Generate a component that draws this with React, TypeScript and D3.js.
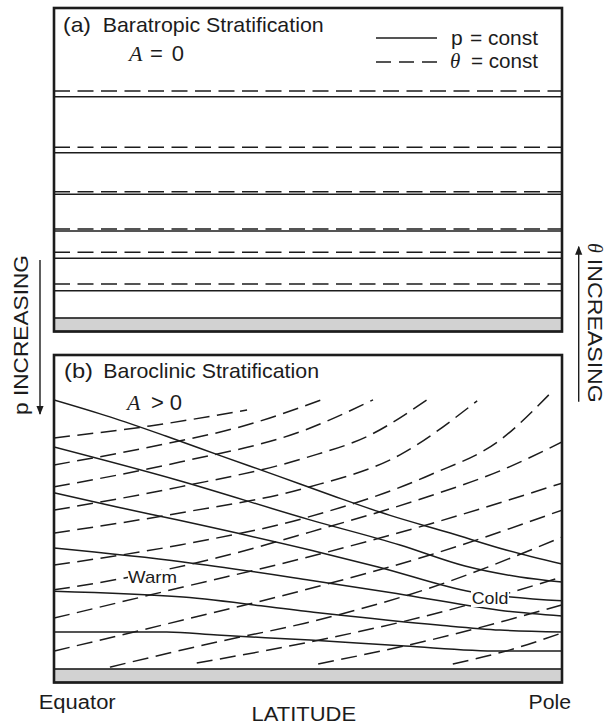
import * as d3 from "d3";

// ---- data (latitude 0 = Equator, 100 = Pole; height 0 = ground, 100 = panel top) ----

// (a) barotropic: horizontal surfaces
const thetaLevelsTop = [73.2, 55.1, 40.7, 28.7, 21.2, 11.0];
const pLevelsTop = [71.4, 53.3, 39.9, 28.1, 19.3, 8.8];

// (b) baroclinic: isobars (solid) as [latitude, height]
const p1: [number, number][] = [[0, 85.7], [11, 80.3], [22, 74.2], [33, 67.8], [44, 61.5], [55, 55.1], [66, 49.0], [78, 43.3], [89, 37.9], [100, 33.4]];
const p2: [number, number][] = [[0, 70.7], [24.2, 60.2], [50.4, 47.5], [68.1, 39.5], [80.9, 32.8], [91.7, 29.3], [100, 27.7]];
const p3: [number, number][] = [[0, 56.1], [12.4, 51.6], [24.2, 47.5], [50.4, 37.9], [63.8, 32.5], [82.3, 24.5], [100, 21.7]];
const p4: [number, number][] = [[0, 38.5], [25.4, 34.1], [50.4, 28.3], [69.1, 23.6], [88.8, 18.5], [100, 16.9]];
const p5: [number, number][] = [[0, 24.8], [25.4, 22.9], [50.4, 18.2], [75.6, 14.0], [87.8, 12.4], [100, 11.8]];
const p6: [number, number][] = [[0, 11.8], [22.2, 11.8], [32.1, 10.8], [50.4, 9.2], [69.1, 7.3], [87.8, 5.7], [100, 5.7]];

// (b) baroclinic: isentropes (dashed)
const t1: [number, number][] = [[0, 73.6], [18.9, 77.4], [38, 82.5]];
const t2: [number, number][] = [[0, 65.0], [18.9, 70.7], [38.6, 78.0], [52.6, 85.7]];
const t3: [number, number][] = [[0, 58.0], [24.8, 65.9], [49.4, 76.1], [62.8, 85.7]];
const t4: [number, number][] = [[0, 50.6], [24.8, 58.0], [49.4, 67.2], [62.2, 74.5], [73.4, 85.7]];
const t5: [number, number][] = [[0, 43.3], [24.8, 49.7], [49.4, 57.6], [68.1, 68.2], [83.3, 85.4]];
const t6: [number, number][] = [[0, 33.1], [24.8, 39.5], [49.4, 48.1], [74, 61.8], [87.8, 72.9], [97.4, 87.3]];
const t7: [number, number][] = [[0, 25.2], [13, 28.7], [32.1, 35.4], [50.4, 43.6], [74, 55.1], [87.8, 63.1], [100, 72.3]];
const t8: [number, number][] = [[0, 16.2], [25.4, 26.1], [49.4, 35.4], [74, 46.2], [100, 59.2]];
const t9: [number, number][] = [[0, 5.7], [25.4, 15.6], [49.4, 25.2], [74, 36.3], [100, 50.6]];
const t10: [number, number][] = [[11, 0.6], [32.1, 8.6], [49.4, 14.6], [74, 25.8], [100, 42.0]];
const t11: [number, number][] = [[28.1, 1.9], [49.4, 8.3], [74, 17.2], [100, 29.3]];
const t12: [number, number][] = [[52, 1.6], [74, 9.2], [100, 20.4]];
const t13: [number, number][] = [[78.5, 1.6], [89.8, 6.1], [100, 11.5]];

const isobars = [p1, p2, p3, p4, p5, p6];
const isentropes = [t1, t2, t3, t4, t5, t6, t7, t8, t9, t10, t11, t12, t13];

const W = 607;
const H = 726;
const SANS = "'Liberation Sans', Arial, Helvetica, sans-serif";
const SERIF = "'Liberation Serif', 'DejaVu Serif', serif";
const INK = "#1c1c1c";
const DASH = "16,7.5";

export default function App() {
  const x = d3.scaleLinear().domain([0, 100]).range([54, 562]);
  const yTop = d3.scaleLinear().domain([0, 100]).range([318, 8]);
  const yBot = d3.scaleLinear().domain([0, 100]).range([669, 355]);
  const band = 13.5;

  const line = d3
    .line<[number, number]>()
    .x((d) => x(d[0]))
    .y((d) => yBot(d[1]))
    .curve(d3.curveMonotoneX);

  const frame = (top: number, ground: number) => (
    <g>
      <rect x={x(0)} y={ground} width={x(100) - x(0)} height={band} fill="#d2d2d2" stroke={INK} strokeWidth={1.6} />
      <rect x={x(0)} y={top} width={x(100) - x(0)} height={ground + band - top} fill="none" stroke={INK} strokeWidth={2.6} />
    </g>
  );

  return (
    <svg width={W} height={H} style={{ position: "absolute", left: 0, top: 0, background: "#fff" }}>
      <defs>
        <marker id="ah" viewBox="0 0 10 10" refX="9" refY="5" markerWidth="9" markerHeight="9" markerUnits="userSpaceOnUse" orient="auto">
          <path d="M0,1 L10,5 L0,9 Z" fill={INK} />
        </marker>
        <clipPath id="clipTop">
          <rect x={x(0)} y={yTop(100)} width={x(100) - x(0)} height={yTop(0) - yTop(100)} />
        </clipPath>
        <clipPath id="clipBot">
          <rect x={x(0)} y={yBot(100)} width={x(100) - x(0)} height={yBot(0) - yBot(100)} />
        </clipPath>
      </defs>

      {/* (a) barotropic panel */}
      <g clipPath="url(#clipTop)">
        {thetaLevelsTop.map((v, i) => (
          <line key={"tt" + i} x1={x(0)} x2={x(100)} y1={yTop(v)} y2={yTop(v)} stroke={INK} strokeWidth={1.5} strokeDasharray={DASH} />
        ))}
        {pLevelsTop.map((v, i) => (
          <line key={"pt" + i} x1={x(0)} x2={x(100)} y1={yTop(v)} y2={yTop(v)} stroke={INK} strokeWidth={1.5} />
        ))}
      </g>
      {frame(yTop(100), yTop(0))}

      <text x={63} y={31.7} fontFamily={SANS} fontSize={21} fill={INK} textLength={28} lengthAdjust="spacingAndGlyphs">(a)</text>
      <text x={102.7} y={31.7} fontFamily={SANS} fontSize={21} fill={INK} textLength={221} lengthAdjust="spacingAndGlyphs">Baratropic Stratification</text>
      <text x={129} y={60.7} fontFamily={SERIF} fontStyle="italic" fontSize={22} fill={INK}>A</text>
      <text x={150} y={60.7} fontFamily={SANS} fontSize={22} fill={INK} textLength={34} lengthAdjust="spacing">= 0</text>

      {/* legend */}
      <line x1={376} x2={437} y1={38} y2={38} stroke={INK} strokeWidth={1.5} />
      <line x1={376} x2={437} y1={62} y2={62} stroke={INK} strokeWidth={1.5} strokeDasharray="15,8" />
      <text x={451} y={45} fontFamily={SANS} fontSize={21} fill={INK}>p</text>
      <text x={470} y={45} fontFamily={SANS} fontSize={21} fill={INK} textLength={68} lengthAdjust="spacingAndGlyphs">= const</text>
      <text x={450} y={68} fontFamily={SERIF} fontStyle="italic" fontSize={21} fill={INK}>θ</text>
      <text x={471} y={68} fontFamily={SANS} fontSize={21} fill={INK} textLength={67} lengthAdjust="spacingAndGlyphs">= const</text>

      {/* (b) baroclinic panel */}
      <g clipPath="url(#clipBot)">
        {isentropes.map((d, i) => (
          <path key={"ti" + i} d={line(d) ?? ""} fill="none" stroke={INK} strokeWidth={1.5} strokeDasharray={DASH} />
        ))}
        {isobars.map((d, i) => (
          <path key={"pi" + i} d={line(d) ?? ""} fill="none" stroke={INK} strokeWidth={1.5} />
        ))}
      </g>
      {frame(yBot(100), yBot(0))}

      <text x={64} y={378} fontFamily={SANS} fontSize={21} fill={INK} textLength={29} lengthAdjust="spacingAndGlyphs">(b)</text>
      <text x={103.3} y={378} fontFamily={SANS} fontSize={21} fill={INK} textLength={215.7} lengthAdjust="spacingAndGlyphs">Baroclinic Stratification</text>
      <text x={127} y={410} fontFamily={SERIF} fontStyle="italic" fontSize={22} fill={INK}>A</text>
      <text x={151} y={410} fontFamily={SANS} fontSize={22} fill={INK} textLength={31} lengthAdjust="spacing">&gt;0</text>

      <rect x={128} y={570} width={50} height={17} fill="#fff" />
      <text x={128} y={583} fontFamily={SANS} fontSize={17} fill={INK} textLength={49} lengthAdjust="spacingAndGlyphs">Warm</text>
      <rect x={471} y={590} width={38} height={17} fill="#fff" />
      <text x={471.7} y={604} fontFamily={SANS} fontSize={17} fill={INK} textLength={36.6} lengthAdjust="spacingAndGlyphs">Cold</text>

      {/* axis labels */}
      <text x={38.7} y={709} fontFamily={SANS} fontSize={20} fill={INK} textLength={77} lengthAdjust="spacingAndGlyphs">Equator</text>
      <text x={528.5} y={709} fontFamily={SANS} fontSize={20} fill={INK} textLength={42.5} lengthAdjust="spacingAndGlyphs">Pole</text>
      <text x={251.6} y={721} fontFamily={SANS} fontSize={20} fill={INK} textLength={104.5} lengthAdjust="spacingAndGlyphs">LATITUDE</text>

      {/* side labels with arrows */}
      <line x1={40} x2={40} y1={260} y2={414} stroke={INK} strokeWidth={1.4} markerEnd="url(#ah)" />
      <text transform="translate(27.5,415) rotate(-90)" fontFamily={SANS} fontSize={21} fill={INK} textLength={160} lengthAdjust="spacingAndGlyphs">p INCREASING</text>

      <line x1={578.7} x2={578.7} y1={401.7} y2={246.7} stroke={INK} strokeWidth={1.4} markerEnd="url(#ah)" />
      <text transform="translate(588,243) rotate(90)" fontFamily={SANS} fontSize={20} fill={INK}>
        <tspan fontFamily={SERIF} fontStyle="italic">θ</tspan>
        <tspan dx={6} textLength={144} lengthAdjust="spacingAndGlyphs">INCREASING</tspan>
      </text>
    </svg>
  );
}
